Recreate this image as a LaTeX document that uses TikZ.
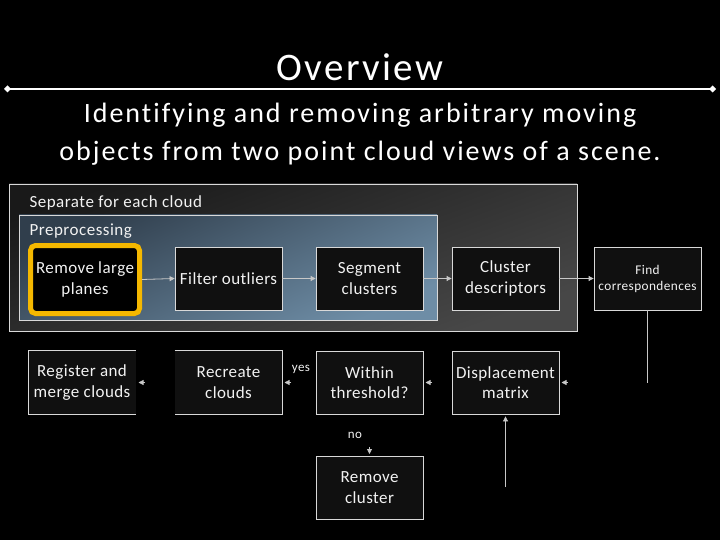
\documentclass[tikz,border=0pt]{standalone}
\usepackage{fontspec}
\setmainfont{Carlito}
\newfontfamily\subfont[LetterSpace=7.2,Ligatures=NoCommon]{Carlito}
\newfontfamily\titlefont[LetterSpace=6]{Carlito}
\newfontfamily\boxfont[LetterSpace=2.5,Ligatures=NoCommon]{Carlito}
\newfontfamily\lblfont[LetterSpace=3,Ligatures=NoCommon]{Carlito}
\usetikzlibrary{arrows.meta}
\definecolor{boxline}{HTML}{D9D9D9}
\definecolor{boxfill}{HTML}{101010}
\definecolor{txt}{HTML}{F2F2F2}
\definecolor{gold}{HTML}{F5B800}
\definecolor{arr}{HTML}{C8C8C8}
\begin{document}
\begin{tikzpicture}[x=1pt,y=-1pt,
  box/.style={draw=boxline, line width=0.8pt, fill=boxfill, text=txt, align=center,
    inner sep=0pt, minimum width=107pt, minimum height=63pt, font=\boxfont\fontsize{17}{20.5}\selectfont},
  conn/.style={draw=arr, line width=0.8pt, -{Triangle[length=5pt,width=5pt]}},
  tip/.style={draw=arr, fill=arr, line width=0.8pt, -{Triangle[length=5pt,width=5pt]}},
  lbl/.style={text=txt, font=\lblfont\fontsize{13}{15}\selectfont}]
\fill[black] (0,0) rectangle (720,540);
\useasboundingbox (0,0) rectangle (720,540);
% title
\node[text=white, font=\titlefont\fontsize{39}{44}\selectfont] (title) at (360,67) {Overview};
\coordinate (la) at (4,89); \coordinate (lb) at (716,89);
\draw[white, line width=2.5pt, {Diamond[length=7pt,width=7pt]}-{Diamond[length=7pt,width=7pt]}] (la) -- (lb);
\node[text=white, font=\subfont\fontsize{28}{38}\selectfont, align=center] (sub) at (360,134)
  {Identifying and removing arbitrary moving\\objects from two point cloud views of a scene.};
% outer group
\shade[top color=black!90, bottom color=black!72, shading angle=20, draw=boxline, line width=0.8pt]
  (9,184) rectangle (577,331);
\node[anchor=west, lbl, font=\lblfont\fontsize{17}{19}\selectfont] (sep) at (26,203) {Separate for each cloud};
\definecolor{pt}{HTML}{303E4C}
\definecolor{pb}{HTML}{6E8DA6}
\shade[top color=pt, bottom color=pb, shading angle=25, draw=boxline, line width=0.8pt]
  (19,215) rectangle (437,320);
\node[anchor=west, lbl, font=\lblfont\fontsize{17}{19}\selectfont] (pre) at (26,231) {Preprocessing};
% row 1
\node[box, draw=gold, line width=5pt, rounded corners=5pt, fill=black, minimum width=109pt, minimum height=68pt]
  (planes) at (85,279.5) {Remove large\\planes};
\node[box] (filter) at (228.5,278.5) {Filter outliers};
\node[box] (segment) at (369.5,278.5) {Segment\\clusters};
\node[box] (cluster) at (505.5,278.5) {Cluster\\descriptors};
\node[box, font=\lblfont\fontsize{13.3}{16}\selectfont] (find) at (647.5,278.5) {Find\\correspondences};
\draw[conn] (planes.east) -- (filter.west);
\draw[conn] (filter.east) -- (segment.west);
\draw[conn] (segment.east) -- (cluster.west);
\draw[conn] (cluster.east) -- (find.west);
% row 2
\node[box, draw=none] (register) at (82,382.5) {Register and\\merge clouds};
\draw[boxline, line width=0.8pt] (register.north east) -- (register.north west) -- (register.south west) -- (register.south east);
\node[box, draw=none] (recreate) at (228.5,382.5) {Recreate\\clouds};
\draw[boxline, line width=0.8pt] (recreate.north west) -- (recreate.north east) -- (recreate.south east) -- (recreate.south west);
\node[box] (within) at (369.5,382.5) {Within\\threshold?};
\node[box] (disp) at (505.5,382.5) {Displacement\\matrix};
\node[box] (remove) at (369.5,487.5) {Remove\\cluster};
% connectors
\coordinate (fbot) at (647.5,383);
\draw[draw=arr, line width=0.8pt] (find.south) -- (fbot);
\coordinate (d1) at (568,382.5); \coordinate (d2) at (561.5,382.5);
\draw[tip] (d1) -- (d2);
\coordinate (w1) at (432,382.5); \coordinate (w2) at (425.5,382.5);
\draw[tip] (w1) -- (w2);
\coordinate (r1) at (291,382.5); \coordinate (r2) at (284.5,382.5);
\draw[tip] (r1) -- (r2);
\coordinate (g1) at (145,382.5); \coordinate (g2) at (138.5,382.5);
\draw[tip] (g1) -- (g2);
\coordinate (n1) at (369.5,447); \coordinate (n2) at (369.5,454);
\draw[tip] (n1) -- (n2);
\coordinate (db) at (505.5,487);
\draw[conn] (db) -- ([yshift=-2pt]disp.south);
\node[lbl] (yes) at (301,369) {yes};
\node[lbl] (no) at (355,435) {no};
\end{tikzpicture}
\end{document}
